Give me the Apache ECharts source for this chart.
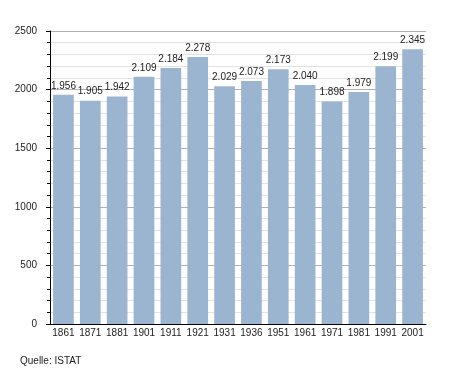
<!DOCTYPE html>
<html><head><meta charset="utf-8">
<script src="https://cdn.jsdelivr.net/npm/echarts@6/dist/echarts.min.js"></script>
<style>html,body{margin:0;padding:0;background:#fff}#c{width:455px;height:373px}</style>
</head><body><div id="c"></div>
<script>
const years = ['1861','1871','1881','1901','1911','1921','1931','1936','1951','1961','1971','1981','1991','2001'];
const population = [1956,1905,1942,2109,2184,2278,2029,2073,2173,2040,1898,1979,2199,2345];
const yTicks = [0,500,1000,1500,2000,2500];
const sourceText = 'Quelle: ISTAT';

function fmt(v){ return String(v).replace(/\B(?=(\d{3})+(?!\d))/g,'.'); }

const FONT = 'Liberation Sans, Arial, sans-serif';
const chart = echarts.init(document.getElementById('c'), null, {renderer:'canvas'});
chart.setOption({
  animation:false,
  textStyle:{fontFamily:FONT},
  grid:{left:50,right:29,top:31,bottom:49,containLabel:false},
  graphic:[{type:'text',left:20,top:356,style:{text:sourceText,fontSize:10,fill:'#222',fontFamily:FONT}}],
  xAxis:{
    type:'category',data:years,
    axisLine:{lineStyle:{color:'#000',width:1}},
    axisTick:{show:false},
    axisLabel:{color:'#222',fontSize:10,margin:4,interval:0,fontFamily:FONT}
  },
  yAxis:{
    type:'value',min:yTicks[0],max:yTicks[yTicks.length-1],interval:500,
    axisLine:{show:true,lineStyle:{color:'#000',width:1}},
    axisTick:{show:true,length:4,lineStyle:{color:'#000'}},
    minorTick:{show:true,splitNumber:5,length:3,lineStyle:{color:'#000'}},
    splitLine:{show:true,lineStyle:{color:'#b0b0b0',width:1}},
    minorSplitLine:{show:true,lineStyle:{color:'#e2e2e2',width:1}},
    axisLabel:{color:'#222',fontSize:10,margin:13,fontFamily:FONT,formatter:v=>String(v)}
  },
  series:[{
    type:'bar',data:population,barCategoryGap:'23%',
    itemStyle:{color:'#9bb4d0'},
    label:{show:true,position:'top',distance:4,color:'#222',fontSize:10,fontFamily:FONT,formatter:p=>fmt(p.value)}
  }]
});
</script></body></html>
